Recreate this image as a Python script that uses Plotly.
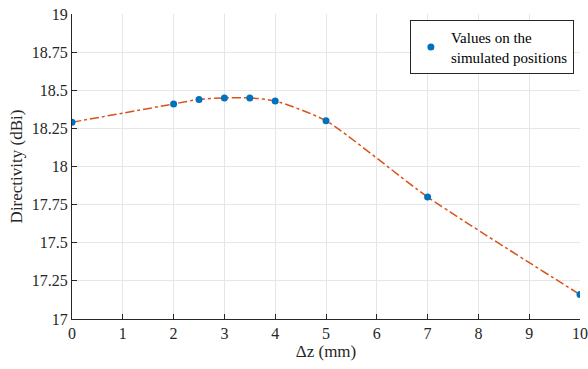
import plotly.graph_objects as go

dz = [0, 2, 2.5, 3, 3.5, 4, 5, 7, 10]
directivity = [18.29, 18.41, 18.44, 18.45, 18.45, 18.43, 18.30, 17.80, 17.16]
x_ticks = list(range(0, 11))
y_ticks = [17, 17.25, 17.5, 17.75, 18, 18.25, 18.5, 18.75, 19]
y_labels = ["17", "17.25", "17.5", "17.75", "18", "18.25", "18.5", "18.75", "19"]

font_family = "'Liberation Serif', 'Times New Roman', serif"

fig = go.Figure()
fig.add_trace(go.Scatter(
    x=dz, y=directivity, mode="lines",
    line=dict(color="#D95319", width=1.5, dash="dashdot", shape="spline", smoothing=0.6),
    showlegend=False, hoverinfo="skip"))
fig.add_trace(go.Scatter(
    x=dz, y=directivity, mode="markers",
    marker=dict(color="#0072BD", size=7),
    name="Values on the<br>simulated positions"))

fig.update_layout(
    width=588, height=369,
    margin=dict(l=72, r=8, t=14, b=50, autoexpand=False),
    paper_bgcolor="white", plot_bgcolor="white",
    font=dict(family=font_family, size=16, color="#262626"),
    legend=dict(x=0.988, y=0.98, xanchor="right", yanchor="top",
                bgcolor="white", bordercolor="#262626", borderwidth=1,
                font=dict(family=font_family, size=15, color="#000000"), itemwidth=30),
    xaxis=dict(range=[0, 10], tickvals=x_ticks, ticks="inside", ticklen=5,
               tickcolor="#262626", showline=True, linecolor="#262626", linewidth=1,
               showgrid=True, gridcolor="#E6E6E6", gridwidth=1, zeroline=False,
               automargin=False, tickfont=dict(family=font_family, size=16),
               title=dict(text="Δz (mm)", font=dict(family=font_family, size=17), standoff=2)),
    yaxis=dict(range=[17, 19], tickvals=y_ticks, ticktext=y_labels, ticks="inside", ticklen=5,
               tickcolor="#262626", showline=True, linecolor="#262626", linewidth=1,
               showgrid=True, gridcolor="#E6E6E6", gridwidth=1, zeroline=False,
               automargin=False, tickfont=dict(family=font_family, size=16),
               title=dict(text="Directivity (dBi)", font=dict(family=font_family, size=17), standoff=4)),
)

fig.write_html("out.html", config={"displayModeBar": False},
               post_script="document.body.style.margin='0';document.body.style.padding='0';")
